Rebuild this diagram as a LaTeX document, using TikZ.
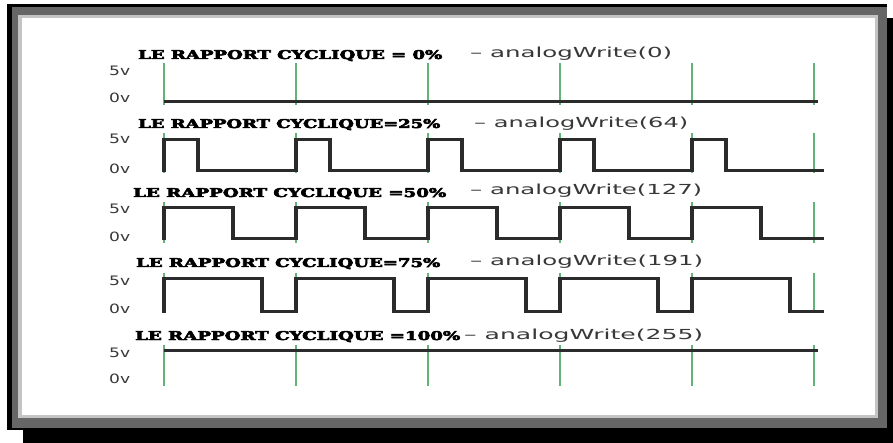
\documentclass[tikz,border=0pt]{standalone}
\usepackage{fontspec}
\usepackage{graphicx}
\newfontfamily\titlefont[FakeBold=4]{DejaVu Serif Bold}
\newfontfamily\labelfont{DejaVu Sans}
\definecolor{sig}{HTML}{2B2B2B}
\definecolor{tickgreen}{HTML}{62B37A}
\definecolor{framegray}{HTML}{666666}
\definecolor{framelight}{HTML}{C4C4C4}
\definecolor{txt}{HTML}{383838}

\begin{document}
\begin{tikzpicture}[x=1pt,y=-1pt,
  title/.style={anchor=base west, inner sep=0pt, font=\titlefont},
  lbl/.style={anchor=base west, inner sep=0pt, text=txt, font=\labelfont},
  tick/.style={draw=tickgreen, line width=2.7pt},
  wave/.style={draw=sig, line width=3pt, line join=miter},
  edgeline/.style={draw=sig, line width=4.5pt}]
\useasboundingbox (0,0) rectangle (893,443);

% framed panel with drop shadow
\fill[black] (23,18) rectangle (893,443);
\fill[black] (7,4) rectangle (887,430);
\fill[framegray] (12,7) rectangle (887,428);
\fill[framelight] (18,15) rectangle (878,418);
\fill[white] (22,18) rectangle (875,415);

% period markers
\foreach \top/\bot in {63/105,133/173,202/243,273/313,345/386}
  \foreach \x in {164,296,428,560,692,814}
    \draw[tick] (\x,\top) -- (\x,\bot);

% voltage labels
\foreach \hb/\lb in {76/103,144/174,214/242,285/313,357/383}{
  \node[lbl] at (109,\hb) {\resizebox{21pt}{9.5pt}{5v}};
  \node[lbl] at (109,\lb) {\resizebox{21pt}{9.5pt}{0v}};
}

% headings
\node[title] (t0) at (138,59) {\resizebox{304pt}{9pt}{LE RAPPORT CYCLIQUE = 0\%}};
\node[lbl] (a0) at (470,58) {\resizebox{202pt}{10.5pt}{– analogWrite(0)}};
\node[title] (t1) at (138,128) {\resizebox{302pt}{9pt}{LE RAPPORT CYCLIQUE=25\%}};
\node[lbl] (a1) at (474,128) {\resizebox{214pt}{10.5pt}{– analogWrite(64)}};
\node[title] (t2) at (133,197) {\resizebox{313pt}{9pt}{LE RAPPORT CYCLIQUE =50\%}};
\node[lbl] (a2) at (470,195) {\resizebox{232pt}{10.5pt}{– analogWrite(127)}};
\node[title] (t3) at (136,267) {\resizebox{304pt}{9pt}{LE RAPPORT CYCLIQUE=75\%}};
\node[lbl] (a3) at (470,266) {\resizebox{233pt}{10.5pt}{– analogWrite(191)}};
\node[title] (t4) at (135,340) {\resizebox{325pt}{9pt}{LE RAPPORT CYCLIQUE =100\%}};
\node[lbl] (a4) at (464,339) {\resizebox{239pt}{10.5pt}{– analogWrite(255)}};

% 0% : always low
\draw[wave] (164,102) -- (818,102);
% 100% : always high
\draw[wave] (164,350) -- (818,350);

% pulse trains: high level / low level / high width
\foreach \hi/\lo/\w in {140/171/34, 208/239/69, 279/311/98}{
  \draw[wave] (164,\lo)
    \foreach \k in {0,...,4}{
      -- ({164+132*\k},\lo) -- ({164+132*\k},\hi)
      -- ({164+132*\k+\w},\hi) -- ({164+132*\k+\w},\lo)
    } -- (824,\lo);
  \foreach \k in {0,...,4}{
    \draw[edgeline] ({164+132*\k},\lo+1.5) -- ({164+132*\k},\hi-1.5);
    \draw[edgeline] ({164+132*\k+\w},\lo+1.5) -- ({164+132*\k+\w},\hi-1.5);
  }
}
\end{tikzpicture}
\end{document}
